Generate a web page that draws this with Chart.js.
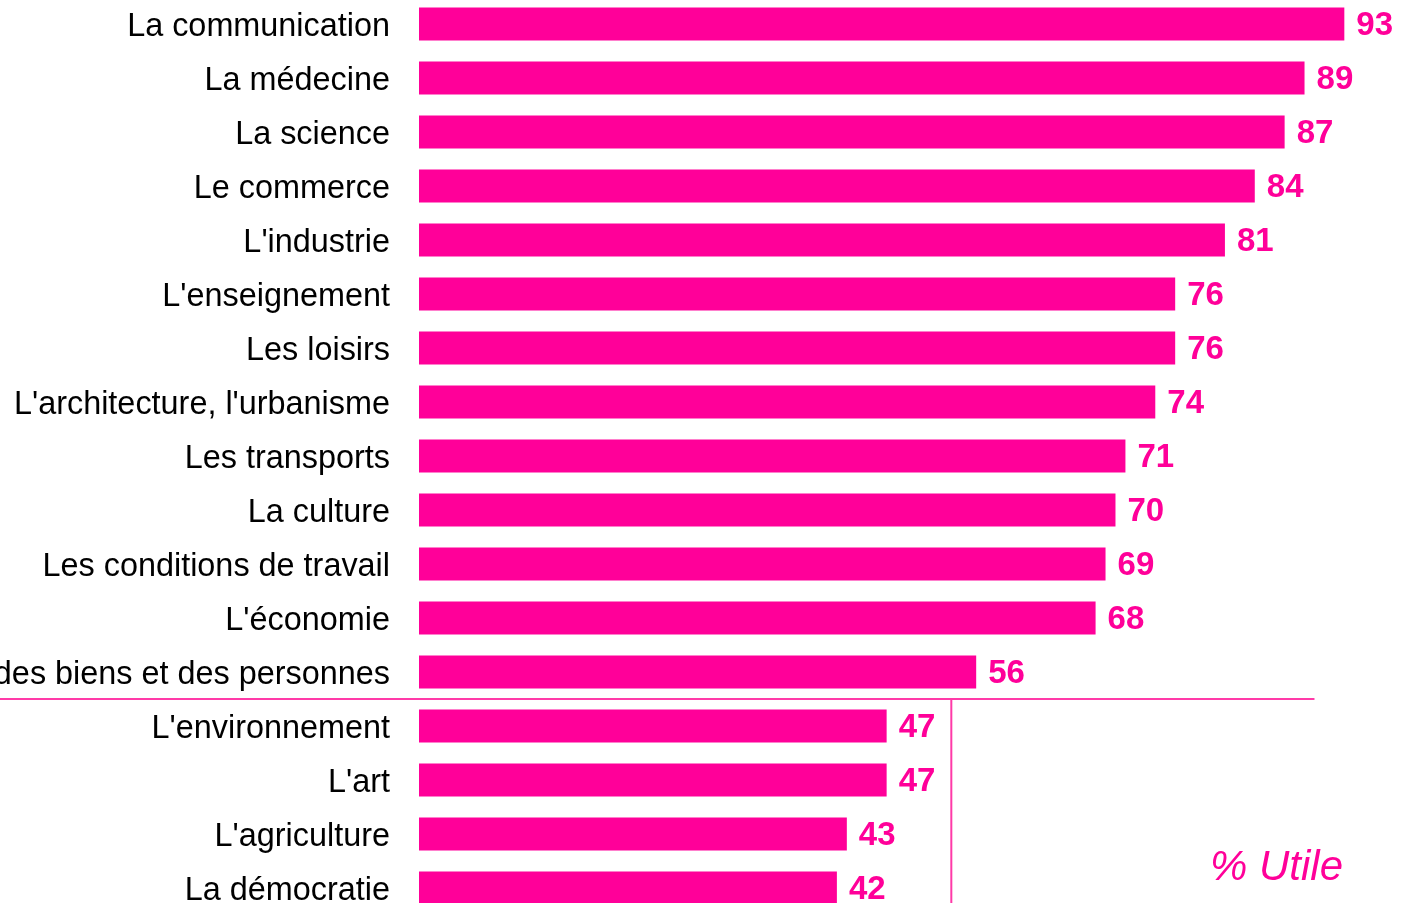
<!DOCTYPE html>
<html>
<head>
<meta charset="utf-8">
<script src="https://cdn.jsdelivr.net/npm/chart.js@4.4.0/dist/chart.umd.min.js"></script>
<style>
  html, body { margin: 0; padding: 0; background: #fff; overflow: hidden; }
  #wrap { position: absolute; left: 0; top: -3px; width: 1410px; height: 918px; }
</style>
</head>
<body>
<div id="wrap"><canvas id="myChart"></canvas></div>
<script>
// données
let categories = [
  'La communication', 'La médecine', 'La science', 'Le commerce', "L'industrie",
  "L'enseignement", 'Les loisirs', "L'architecture, l'urbanisme", 'Les transports',
  'La culture', 'Les conditions de travail', "L'économie",
  'La circulation des biens et des personnes',
  "L'environnement", "L'art", "L'agriculture", 'La démocratie'
];
let utile = [93, 89, 87, 84, 81, 76, 76, 74, 71, 70, 69, 68, 56, 47, 47, 43, 42];
let noteText = '% Utile';

const pink = '#ff0099';
const linePink = '#ff3aa8';

// valeurs à droite des barres + séparateurs + mention "% Utile"
const extras = {
  id: 'extras',
  afterDatasetsDraw(chart) {
    const c = chart.ctx;
    const meta = chart.getDatasetMeta(0);
    c.save();
    c.font = 'bold 33px "Liberation Sans", Arial, sans-serif';
    c.fillStyle = pink;
    c.textAlign = 'left';
    c.textBaseline = 'middle';
    meta.data.forEach(function(bar, i){
      c.fillText(utile[i], bar.x + 12, bar.y + 2);
    });

    // lignes de séparation
    const y = (meta.data[12].y + meta.data[13].y) / 2;
    const xs = chart.scales.x;
    c.strokeStyle = linePink;
    c.lineWidth = 2;
    c.beginPath();
    c.moveTo(0, y);
    c.lineTo(xs.getPixelForValue(90), y);
    c.moveTo(xs.getPixelForValue(53.5), y);
    c.lineTo(xs.getPixelForValue(53.5), chart.height);
    c.stroke();

    c.font = 'italic 42px "Liberation Sans", Arial, sans-serif';
    c.textAlign = 'right';
    c.textBaseline = 'alphabetic';
    c.fillText(noteText, 1343, 883);
    c.restore();
  }
};

let ctx = document.getElementById('myChart');
let myChart = new Chart(ctx, {
  type: 'bar',
  data: {
    labels: categories,
    datasets: [{
      data: utile,
      backgroundColor: pink,
      borderWidth: 0,
      barPercentage: 0.61,
      categoryPercentage: 1
    }]
  },
  options: {
    indexAxis: 'y',
    responsive: true,
    maintainAspectRatio: false,
    animation: false,
    layout: { padding: { left: 0, right: 1, top: 0, bottom: 0 } },
    plugins: {
      legend: { display: false },
      tooltip: { enabled: false }
    },
    scales: {
      x: {
        display: false,
        min: 0,
        max: 99.5
      },
      y: {
        grid: { display: false, drawTicks: false },
        border: { display: false },
        afterFit: function(scale){
          scale.width = 419;
          scale.paddingTop = 0;
          scale.paddingBottom = 0;
        },
        ticks: {
          padding: 29,
          labelOffset: 3,
          autoSkip: false,
          color: '#000',
          font: { family: '"Liberation Sans", Arial, sans-serif', size: 32.4 }
        }
      }
    }
  },
  plugins: [extras]
});
</script>
</body>
</html>
